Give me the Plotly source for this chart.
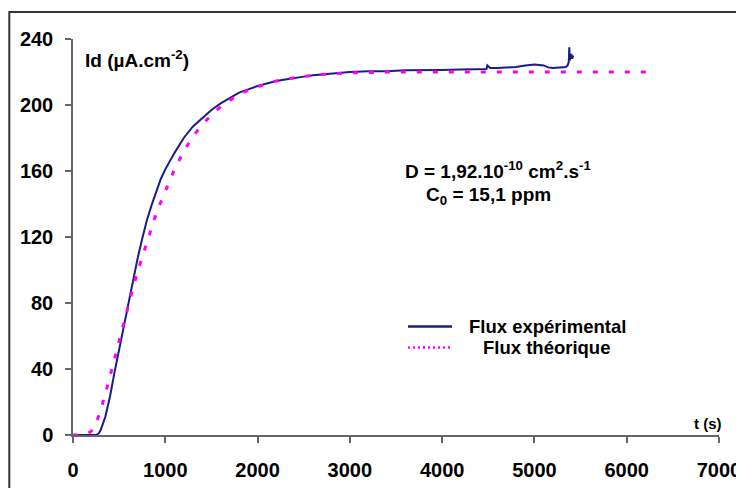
import plotly.graph_objects as go

# ---- data ----
t_exp = [0, 100, 200, 250, 280, 300, 350, 400, 450, 500, 550, 600, 650, 700, 750, 800,
         850, 900, 950, 1000, 1100, 1200, 1300, 1400, 1500, 1600, 1700, 1800, 1900, 2000,
         2100, 2200, 2300, 2400, 2500, 2600, 2700, 2800, 2900, 3000, 3200, 3400, 3600,
         3800, 4000, 4200, 4400, 4480, 4490, 4520, 4600, 4700, 4800, 4900, 5000, 5100,
         5150, 5200, 5300, 5340, 5360, 5372, 5378, 5384, 5390, 5400, 5410, 5420]
flux_exp = [0, 0, 0, 0, 1, 3, 11, 23, 38, 52, 66, 80, 94, 107, 119, 130,
            139, 147, 155, 161, 171, 180, 187, 192, 197, 201, 204.5, 207.5, 209.5, 211.5,
            213, 214.5, 215.5, 216.5, 217.2, 218, 218.5, 219, 219.5, 220, 220.5, 220.5, 221,
            221, 221.2, 221.5, 221.5, 221.8, 224, 222.5, 222.5, 222.8, 223, 224, 224.5, 224,
            222.8, 222.5, 222.6, 223, 224, 226, 235, 227, 229, 231, 228, 230]

t_th = [0, 100, 150, 200, 250, 300, 350, 400, 450, 500, 550, 600, 650, 700, 750, 800,
        850, 900, 950, 1000, 1100, 1200, 1300, 1400, 1500, 1600, 1700, 1800, 1900, 2000,
        2200, 2400, 2600, 2800, 3000, 3500, 4000, 5000, 6000, 6280]
flux_th = [0, 0, 0.5, 2.5, 7, 15, 25, 35, 46, 57, 68, 79, 89, 99, 108, 117,
           126, 134, 141, 148, 161, 172, 181, 188, 194, 199, 203, 206.5, 209, 211,
           214.5, 216.5, 218, 219, 219.5, 220, 220, 220, 220, 220]

x_ticks = [0, 1000, 2000, 3000, 4000, 5000, 6000, 7000]
y_ticks = [0, 40, 80, 120, 160, 200, 240]
series_names = ["Flux expérimental", "Flux théorique"]
series_colors = ["#1c1c84", "#ff00ff"]

FONT = "Liberation Sans, Arial, sans-serif"

fig = go.Figure()
fig.add_trace(go.Scatter(
    x=t_exp, y=flux_exp, mode="lines", name=series_names[0],
    line=dict(color=series_colors[0], width=2), showlegend=False,
))
fig.add_trace(go.Scatter(
    x=t_th, y=flux_th, mode="lines", name=series_names[1],
    line=dict(color=series_colors[1], width=3, dash="5px,11px"), showlegend=False,
))

# hand-placed legend (keys + centered labels), in paper coordinates
key_x0, key_x1 = 0.5186, 0.5867
key_y = [0.274, 0.221]
label_x = [0.7345, 0.733]
legend_shapes = [
    dict(type="line", xref="paper", yref="paper", x0=key_x0, x1=key_x1, y0=key_y[0], y1=key_y[0],
         line=dict(color=series_colors[0], width=2.5)),
    dict(type="line", xref="paper", yref="paper", x0=key_x0, x1=key_x1, y0=key_y[1], y1=key_y[1],
         line=dict(color=series_colors[1], width=2.5, dash="2px,3px")),
]
legend_labels = [
    dict(text=series_names[i], xref="paper", yref="paper", x=label_x[i], y=key_y[i],
         xanchor="center", yanchor="middle", showarrow=False,
         font=dict(family=FONT, size=18.5, weight="bold", color="black"))
    for i in range(2)
]

fig.update_layout(
    width=744, height=488,
    margin=dict(l=65, r=33, t=31, b=61, autoexpand=False),
    paper_bgcolor="white", plot_bgcolor="white",
    font=dict(family=FONT, color="black"),
    showlegend=False,
    xaxis=dict(
        range=[0, 7000], tickvals=x_ticks, ticktext=[str(v) for v in x_ticks],
        showgrid=False, zeroline=False, showline=True, linecolor="#666666", linewidth=1.5,
        ticks="outside", ticklen=6, tickcolor="#666666", tickwidth=1.5, automargin=False,
        tickfont=dict(family=FONT, size=20, weight="bold", color="black"),
        ticklabelstandoff=10,
    ),
    yaxis=dict(
        range=[0, 240], tickvals=y_ticks, ticktext=[str(v) for v in y_ticks],
        showgrid=False, zeroline=False, showline=True, linecolor="#666666", linewidth=1.5,
        ticks="outside", ticklen=6, tickcolor="#666666", tickwidth=1.5, automargin=False,
        tickfont=dict(family=FONT, size=20, weight="bold", color="black"),
        ticklabelstandoff=8,
    ),
    shapes=[dict(
        type="rect", xref="paper", yref="paper",
        x0=-0.0986, y0=-0.3, x1=1.2, y1=1.068,
        line=dict(color="#333333", width=2), fillcolor="rgba(0,0,0,0)", layer="below",
    )] + legend_shapes,
    annotations=[
        dict(text="Id (µA.cm<sup>-2</sup>)", xref="paper", yref="paper",
             x=0.0155, y=0.949, xanchor="left", yanchor="middle", showarrow=False,
             font=dict(family=FONT, size=19, weight="bold", color="black")),
        dict(text="D = 1,92.10<sup>-10</sup> cm<sup>2</sup>.s<sup>-1</sup>", xref="paper", yref="paper",
             x=(498 - 73) / 646, y=0.668, xanchor="center", yanchor="middle", showarrow=False,
             font=dict(family=FONT, size=19, weight="bold", color="black")),
        dict(text="C<sub>0</sub> = 15,1 ppm", xref="paper", yref="paper",
             x=(488 - 73) / 646, y=0.603, xanchor="center", yanchor="middle", showarrow=False,
             font=dict(family=FONT, size=19, weight="bold", color="black")),
        dict(text="t (s)", xref="x", yref="y", x=7000, y=0,
             xanchor="right", yanchor="bottom", showarrow=False, yshift=1, xshift=5,
             font=dict(family=FONT, size=15, weight="bold", color="black")),
    ] + legend_labels,
)

fig.write_html("out.html")
